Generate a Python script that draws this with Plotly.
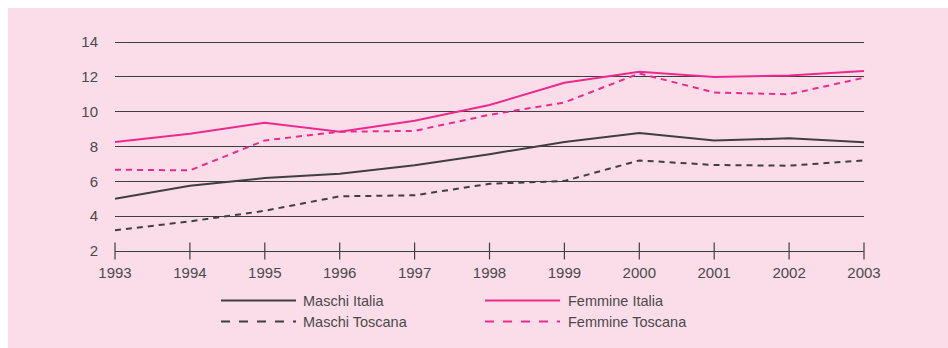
import plotly.graph_objects as go

# Annual values, 1993-2003
years = [1993, 1994, 1995, 1996, 1997, 1998, 1999, 2000, 2001, 2002, 2003]
maschi_italia = [5.0, 5.75, 6.19, 6.44, 6.92, 7.56, 8.26, 8.78, 8.34, 8.47, 8.25]
maschi_toscana = [3.19, 3.70, 4.31, 5.14, 5.20, 5.86, 6.02, 7.20, 6.94, 6.90, 7.20]
femmine_italia = [8.26, 8.74, 9.37, 8.85, 9.48, 10.38, 11.66, 12.29, 11.99, 12.08, 12.33]
femmine_toscana = [6.67, 6.63, 8.35, 8.85, 8.90, 9.82, 10.53, 12.20, 11.10, 11.00, 11.95]
y_ticks = [2, 4, 6, 8, 10, 12, 14]

DARK = "#3f3f3f"
PINK = "#ec2a8e"
BG = "#fbdde9"
TEXT = "#4a4a4a"
FONT = "Liberation Sans, Arial, sans-serif"

series = [
    ("Maschi Italia", maschi_italia, DARK, "solid"),
    ("Maschi Toscana", maschi_toscana, DARK, "6px,5px"),
    ("Femmine Italia", femmine_italia, PINK, "solid"),
    ("Femmine Toscana", femmine_toscana, PINK, "6px,5px"),
]

fig = go.Figure()

# year ticks crossing the baseline
fig.add_trace(go.Scatter(
    x=years, y=[y_ticks[0]] * len(years), mode="markers",
    marker=dict(symbol="line-ns-open", size=12, color=DARK,
                line=dict(color=DARK, width=1.2)),
    cliponaxis=False, showlegend=False, hoverinfo="skip"))

for name, vals, color, dash in series:
    fig.add_trace(go.Scatter(
        x=years, y=vals, mode="lines", name=name,
        line=dict(color=color, width=2, dash=dash),
        cliponaxis=False, showlegend=False))

# plot area geometry in pixels (used for placing the panel and legend)
W, H = 948, 348
L, R, T, B = 115, 84, 41, 97
pw, ph = W - L - R, H - T - B


def px_x(x):
    return (x - L) / pw


def px_y(y):
    return (H - B - y) / ph


shapes = [dict(type="rect", xref="paper", yref="paper", layer="below",
               x0=px_x(8), x1=px_x(W + 2), y0=px_y(H + 2), y1=px_y(8),
               fillcolor=BG, line=dict(width=0))]

annotations = []
legend_pos = [(221, 296, 301, 300.5), (221, 296, 301, 321.5),
              (485, 560, 566, 300.5), (485, 560, 566, 321.5)]
for (name, vals, color, dash), (lx0, lx1, tx, ly) in zip(series, legend_pos):
    shapes.append(dict(type="line", xref="paper", yref="paper",
                       x0=px_x(lx0), x1=px_x(lx1), y0=px_y(ly), y1=px_y(ly),
                       line=dict(color=color, width=2,
                                 dash="dash" if dash != "solid" else "solid")))
    annotations.append(dict(text=name, xref="paper", yref="paper",
                            x=px_x(tx), y=px_y(ly), xanchor="left", yanchor="middle",
                            showarrow=False, font=dict(size=14.5, color=TEXT, family=FONT)))

fig.update_layout(
    width=W, height=H,
    margin=dict(l=L, r=R, t=T, b=B, pad=0),
    paper_bgcolor="white", plot_bgcolor="rgba(0,0,0,0)",
    font=dict(family=FONT, color=TEXT, size=15),
    shapes=shapes, annotations=annotations,
    showlegend=False,
    xaxis=dict(range=[years[0], years[-1]], tickvals=years, ticktext=[str(y) for y in years],
               showgrid=False, zeroline=False, showline=True, linecolor=DARK, linewidth=1.2,
               ticks="", ticklabelstandoff=8, tickfont=dict(size=15, color=TEXT)),
    yaxis=dict(range=[y_ticks[0], y_ticks[-1] + 0.06], tickvals=y_ticks,
               showgrid=True, gridcolor=DARK, gridwidth=1.2, zeroline=False, showline=False,
               ticks="", ticklabelstandoff=16, tickfont=dict(size=15, color=TEXT)),
)

fig.write_html("out.html")
